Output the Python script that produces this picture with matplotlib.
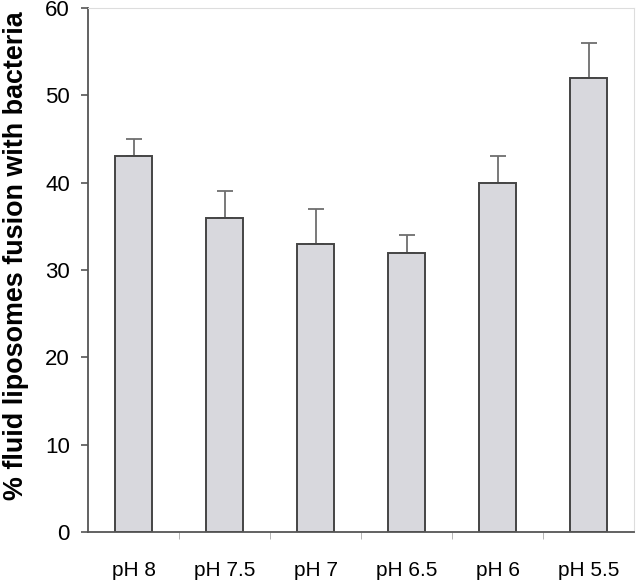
import numpy as np
import matplotlib.pyplot as plt

# data
labels = ["pH 8", "pH 7.5", "pH 7", "pH 6.5", "pH 6", "pH 5.5"]
fusion = [43, 36, 33, 32, 40, 52]
err_up = [2, 3, 4, 2, 3, 4]

plt.rcParams['font.family'] = ['Liberation Sans', 'DejaVu Sans']

fig = plt.figure(figsize=(6.36, 5.81), dpi=100)
ax = fig.add_axes([88/636, 1-532/581, 546/636, 524/581])

x = np.arange(len(labels))
ax.bar(x, fusion, width=0.41, color="#d8d8dd", edgecolor="#444444", linewidth=1.4, zorder=2)
# only the upper half of the error bars
ax.errorbar(x, fusion, yerr=[np.zeros(len(err_up)), err_up], fmt="none",
            ecolor="#6e6e6e", elinewidth=1.3, capsize=6, capthick=1.3, zorder=1)

ax.set_xlim(-0.5, len(labels)-0.5)
ax.set_ylim(0, 60)
ax.set_yticks(np.arange(0, 61, 10))
ax.set_xticks(x)
ax.set_xticklabels(labels, fontsize=15)
ax.set_xticks(np.arange(0.5, len(labels)-1, 1), minor=True)
ax.tick_params(axis="x", which="major", length=0, pad=21)
ax.tick_params(axis="x", which="minor", length=5, color="#aaaaaa")
ax.tick_params(axis="y", length=5, width=1.2, color="#555555", labelsize=16, pad=8)

ax.spines["left"].set_color("#555555")
ax.spines["left"].set_linewidth(1.3)
ax.spines["bottom"].set_color("#555555")
ax.spines["bottom"].set_linewidth(1.3)
ax.spines["top"].set_color("#dddddd")
ax.spines["right"].set_color("#dddddd")

ax.set_ylabel("% fluid liposomes fusion with bacteria", fontsize=19.4, fontweight="bold")
ax.yaxis.set_label_coords(-0.108, 0.527)

plt.savefig("out.png", dpi=100)
